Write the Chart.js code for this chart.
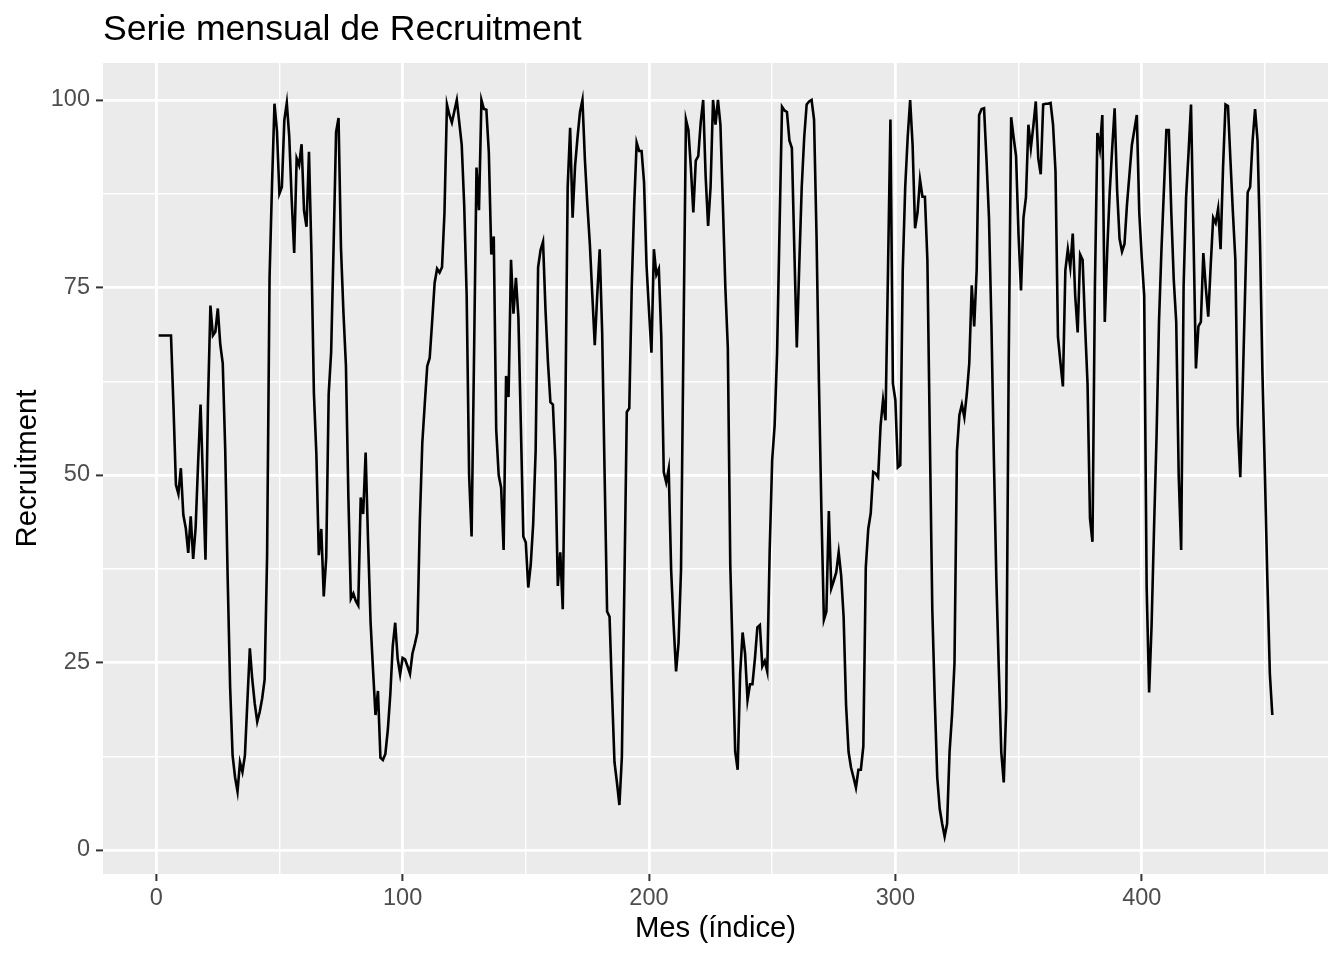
<!DOCTYPE html>
<html lang="es">
<head>
<meta charset="utf-8">
<title>Serie mensual de Recruitment</title>
<script src="https://cdn.jsdelivr.net/npm/chart.js@4.4.1/dist/chart.umd.min.js"></script>
<style>
    html, body { margin: 0; padding: 0; background: #ffffff; }
    #recChart { display: block; }
</style>
</head>
<body>
<canvas id="recChart" width="1344" height="960"></canvas>
<script>
// Recruitment values, one per month
const recruitment = [
    68.6, 68.6, 68.6, 68.6, 68.6, 68.6, 59.2, 48.7, 47.5, 50.9,
    44.7, 42.9, 39.6, 44.5, 38.8, 43.0, 51.6, 59.4, 49.0, 38.7,
    59.5, 72.6, 68.6, 69.1, 72.2, 67.4, 64.9, 53.5, 36.3, 21.7,
    12.6, 9.7, 7.8, 11.7, 10.4, 12.6, 19.8, 26.9, 22.7, 19.5,
    17.1, 18.4, 20.2, 22.7, 39.2, 76.3, 88.7, 99.5, 95.9, 87.5,
    88.4, 97.3, 99.6, 95.1, 86.6, 79.6, 92.2, 91.3, 94.1, 85.2,
    83.1, 93.1, 79.6, 60.9, 52.8, 39.3, 42.8, 33.8, 39.0, 60.8,
    66.4, 80.6, 95.7, 97.6, 80.2, 71.6, 64.6, 47.0, 33.5, 34.2,
    33.2, 32.6, 47.0, 44.8, 53.0, 41.0, 30.4, 24.0, 18.0, 21.2,
    12.3, 12.0, 12.8, 16.0, 20.7, 27.2, 30.3, 25.5, 23.4, 25.6,
    25.4, 24.5, 23.5, 26.2, 27.5, 29.0, 43.9, 54.3, 59.5, 64.5,
    65.6, 70.5, 75.6, 77.5, 77.0, 77.7, 85.0, 99.4, 98.0, 97.0,
    98.5, 100.0, 97.0, 94.0, 86.0, 74.0, 50.0, 41.8, 66.0, 91.0,
    85.3, 100.0, 98.8, 98.7, 93.0, 79.4, 81.8, 56.0, 50.0, 48.3,
    40.0, 63.2, 60.4, 78.7, 71.5, 76.3, 71.0, 56.6, 41.8, 41.0,
    35.0, 38.0, 43.5, 53.2, 77.7, 80.0, 81.1, 72.0, 65.0, 59.7,
    59.4, 51.8, 35.2, 39.7, 32.1, 56.6, 88.4, 96.3, 84.3, 91.2,
    95.0, 98.4, 100.0, 92.0, 86.0, 80.8, 74.0, 67.3, 74.0, 80.1,
    69.0, 50.0, 31.8, 31.1, 21.0, 11.7, 9.0, 6.0, 12.4, 35.0,
    58.4, 58.9, 75.0, 86.0, 94.3, 93.2, 93.2, 89.0, 78.0, 72.0,
    66.3, 80.1, 76.7, 77.5, 68.4, 50.4, 49.0, 50.8, 37.3, 30.0,
    23.8, 27.6, 37.3, 68.0, 97.4, 96.0, 91.0, 85.0, 91.9, 92.5,
    97.0, 100.0, 89.8, 83.2, 88.4, 100.0, 96.7, 100.0, 96.7, 86.0,
    75.0, 67.0, 38.0, 25.6, 13.1, 10.7, 23.5, 29.0, 26.2, 20.0,
    22.1, 22.1, 25.5, 29.7, 30.0, 24.5, 25.2, 23.8, 40.0, 52.0,
    56.6, 66.3, 83.0, 99.1, 98.6, 98.4, 94.6, 93.6, 80.0, 67.0,
    78.0, 88.4, 95.0, 99.4, 99.8, 100.0, 97.4, 82.0, 62.0, 45.0,
    30.7, 31.8, 45.2, 34.9, 35.9, 37.0, 39.7, 36.6, 31.1, 19.3,
    13.1, 11.0, 9.7, 8.3, 10.7, 10.7, 13.8, 37.7, 42.8, 44.9,
    50.4, 50.2, 49.7, 56.6, 60.0, 57.3, 77.0, 97.4, 62.2, 60.0,
    51.0, 51.3, 77.3, 88.4, 95.0, 100.0, 94.0, 82.9, 85.0, 89.4,
    87.1, 87.1, 78.7, 55.0, 32.0, 20.0, 9.7, 5.5, 3.5, 1.8,
    3.5, 13.1, 18.0, 24.9, 53.2, 58.0, 59.4, 57.7, 60.8, 64.9,
    75.3, 69.8, 77.3, 98.0, 98.8, 98.9, 92.0, 84.3, 70.0, 52.0,
    36.0, 24.0, 13.0, 9.0, 19.0, 65.0, 97.7, 95.0, 92.5, 82.0,
    74.6, 84.3, 87.0, 96.7, 93.6, 96.5, 99.8, 92.2, 90.1, 99.4,
    99.5, 99.5, 99.6, 96.7, 90.5, 68.4, 65.0, 61.8, 77.3, 80.1,
    77.7, 82.2, 73.9, 69.0, 79.4, 78.7, 70.0, 62.2, 44.2, 41.1,
    75.3, 95.6, 93.5, 98.0, 70.4, 80.0, 87.7, 93.5, 98.9, 88.0,
    81.5, 79.8, 80.8, 86.0, 90.0, 94.0, 96.0, 98.0, 85.0, 79.0,
    73.9, 35.0, 21.0, 30.0, 43.0, 55.0, 70.4, 80.0, 88.0, 96.0,
    96.0, 85.0, 76.0, 70.4, 50.0, 40.0, 75.3, 87.0, 93.0, 99.4,
    82.0, 64.2, 69.8, 70.4, 79.6, 75.0, 71.1, 78.0, 84.3, 83.6,
    85.5, 80.1, 91.0, 99.4, 99.2, 92.0, 85.0, 78.7, 56.6, 49.7,
    62.0, 75.0, 87.7, 88.4, 94.6, 98.8, 94.6, 81.0, 63.5, 50.0,
    35.9, 23.5, 18.0
];

// Month index for each value (1..n)
const months = recruitment.map((_, i) => i + 1);

// Axis breaks (major ones get labels, the rest are minor grid lines)
const xMajorTicks = [0, 100, 200, 300, 400];
const xMinorTicks = [50, 150, 250, 350, 450];
const yMajorTicks = [0, 25, 50, 75, 100];
const yMinorTicks = [12.5, 37.5, 62.5, 87.5];

const FONT = '"Liberation Sans", Arial, Helvetica, sans-serif';

// Grey panel behind the plot area
const panelBackground = {
    id: 'panelBackground',
    beforeDraw(chart) {
        const { ctx, chartArea: a } = chart;
        ctx.save();
        ctx.fillStyle = '#EBEBEB';
        ctx.fillRect(a.left, a.top, a.right - a.left, a.bottom - a.top);
        ctx.restore();
    }
};

// Plot title, left aligned on the panel like ggplot
const plotTitle = {
    id: 'plotTitle',
    afterDraw(chart) {
        const { ctx, chartArea: a } = chart;
        ctx.save();
        ctx.font = '35.6px ' + FONT;
        ctx.fillStyle = '#000000';
        ctx.textAlign = 'left';
        ctx.textBaseline = 'alphabetic';
        ctx.fillText('Serie mensual de Recruitment', a.left, 40);
        ctx.restore();
    }
};

function buildTicks(major, minor) {
    return major.concat(minor).sort((a, b) => a - b).map(v => ({ value: v }));
}

function gridFor(major) {
    return {
        drawTicks: true,
        tickLength: 7,
        tickWidth: 2,
        color: '#FFFFFF',
        lineWidth: ctx => major.includes(ctx.tick.value) ? 2.8 : 1.4,
        tickColor: ctx => major.includes(ctx.tick.value) ? '#333333' : 'rgba(0,0,0,0)'
    };
}

// Build chart
const chart = new Chart(document.getElementById('recChart'), {
    type: 'line',
    data: {
        datasets: [{
            label: 'Recruitment',
            data: months.map((m, i) => ({ x: m, y: recruitment[i] })),
            borderColor: '#000000',
            borderWidth: 2.6,
            pointRadius: 0,
            tension: 0,
            fill: false
        }]
    },
    options: {
        responsive: false,
        animation: false,
        devicePixelRatio: 1,
        layout: { padding: { top: 63, right: 16, bottom: 0, left: 0 } },
        plugins: {
            legend: { display: false },
            tooltip: { enabled: false },
            title: { display: false }
        },
        scales: {
            x: {
                type: 'linear',
                min: -21.6,
                max: 475.6,
                afterBuildTicks: scale => { scale.ticks = buildTicks(xMajorTicks, xMinorTicks); },
                afterFit: scale => { scale.height = 86; },
                border: { display: false },
                grid: gridFor(xMajorTicks),
                ticks: {
                    autoSkip: false,
                    maxRotation: 0,
                    padding: 3,
                    color: '#4D4D4D',
                    font: { family: FONT, size: 23.5 },
                    callback: v => xMajorTicks.includes(v) ? String(v) : ''
                },
                title: {
                    display: true,
                    text: 'Mes (índice)',
                    color: '#000000',
                    font: { family: FONT, size: 29.3 },
                    padding: { top: 0, bottom: 14 }
                }
            },
            y: {
                type: 'linear',
                min: -3.2,
                max: 104.93,
                afterBuildTicks: scale => { scale.ticks = buildTicks(yMajorTicks, yMinorTicks); },
                afterFit: scale => { scale.width = 103; },
                border: { display: false },
                grid: gridFor(yMajorTicks),
                ticks: {
                    autoSkip: false,
                    padding: 6,
                    color: '#4D4D4D',
                    font: { family: FONT, size: 23.5 },
                    callback: v => yMajorTicks.includes(v) ? String(v) : ''
                },
                title: {
                    display: true,
                    text: 'Recruitment',
                    color: '#000000',
                    font: { family: FONT, size: 29.3 },
                    padding: { top: 10, bottom: 0 }
                }
            }
        }
    },
    plugins: [panelBackground, plotTitle]
});
</script>
</body>
</html>
